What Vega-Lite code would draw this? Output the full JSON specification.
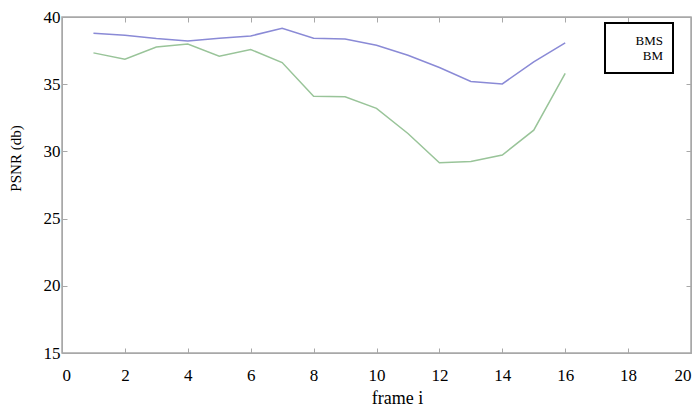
{
  "$schema": "https://vega.github.io/schema/vega-lite/v6.json",
  "autosize": "none",
  "width": 629,
  "height": 336,
  "padding": {"left": 62, "top": 17, "right": 6, "bottom": 55},
  "background": "white",
  "config": {
    "view": {"stroke": "#a8a8a8", "strokeWidth": 1.5},
    "font": "Liberation Serif",
    "axis": {
      "grid": false,
      "domainColor": "#a8a8a8",
      "tickColor": "#a8a8a8",
      "tickSize": -5,
      "labelFont": "Liberation Serif",
      "labelColor": "#000000",
      "labelFontSize": 17,
      "titleFont": "Liberation Serif",
      "titleFontWeight": "normal",
      "titleColor": "#000000"
    },
    "legend": {
      "strokeColor": "#000000",
      "strokeWidth": 2,
      "padding": 10,
      "fillColor": "white",
      "labelFont": "Liberation Serif",
      "labelFontSize": 13,
      "labelColor": "#000000"
    }
  },
  "data": {
    "values": [
      {"frame": 1, "psnr": 38.8, "method": "BMS"},
      {"frame": 2, "psnr": 38.65, "method": "BMS"},
      {"frame": 3, "psnr": 38.4, "method": "BMS"},
      {"frame": 4, "psnr": 38.22, "method": "BMS"},
      {"frame": 5, "psnr": 38.42, "method": "BMS"},
      {"frame": 6, "psnr": 38.59, "method": "BMS"},
      {"frame": 7, "psnr": 39.16, "method": "BMS"},
      {"frame": 8, "psnr": 38.42, "method": "BMS"},
      {"frame": 9, "psnr": 38.37, "method": "BMS"},
      {"frame": 10, "psnr": 37.9, "method": "BMS"},
      {"frame": 11, "psnr": 37.15, "method": "BMS"},
      {"frame": 12, "psnr": 36.24, "method": "BMS"},
      {"frame": 13, "psnr": 35.2, "method": "BMS"},
      {"frame": 14, "psnr": 35.02, "method": "BMS"},
      {"frame": 15, "psnr": 36.66, "method": "BMS"},
      {"frame": 16, "psnr": 38.07, "method": "BMS"},
      {"frame": 1, "psnr": 37.33, "method": "BM"},
      {"frame": 2, "psnr": 36.86, "method": "BM"},
      {"frame": 3, "psnr": 37.77, "method": "BM"},
      {"frame": 4, "psnr": 37.99, "method": "BM"},
      {"frame": 5, "psnr": 37.08, "method": "BM"},
      {"frame": 6, "psnr": 37.58, "method": "BM"},
      {"frame": 7, "psnr": 36.61, "method": "BM"},
      {"frame": 8, "psnr": 34.11, "method": "BM"},
      {"frame": 9, "psnr": 34.06, "method": "BM"},
      {"frame": 10, "psnr": 33.2, "method": "BM"},
      {"frame": 11, "psnr": 31.33, "method": "BM"},
      {"frame": 12, "psnr": 29.15, "method": "BM"},
      {"frame": 13, "psnr": 29.25, "method": "BM"},
      {"frame": 14, "psnr": 29.73, "method": "BM"},
      {"frame": 15, "psnr": 31.58, "method": "BM"},
      {"frame": 16, "psnr": 35.8, "method": "BM"}
    ]
  },
  "resolve": {"axis": {"x": "independent", "y": "independent"}},
  "layer": [
    {
      "mark": {"type": "line", "strokeWidth": 1.5},
      "encoding": {
        "x": {
          "field": "frame", "type": "quantitative",
          "scale": {"domain": [0, 20], "nice": false},
          "axis": {"orient": "bottom", "values": [0,2,4,6,8,10,12,14,16,18,20], "title": "frame i",
                   "titleFontSize": 18, "labelPadding": 19, "titleX": 335, "titleY": 50, "titleBaseline": "alphabetic"}
        },
        "y": {
          "field": "psnr", "type": "quantitative",
          "scale": {"domain": [15, 40], "nice": false, "zero": false},
          "axis": {"orient": "left", "values": [15,20,25,30,35,40], "title": "PSNR (db)",
                   "titleFontSize": 15, "labelPadding": 7, "titleX": -47, "titleY": 141, "titleBaseline": "middle"}
        },
        "color": {
          "field": "method", "type": "nominal",
          "scale": {"domain": ["BMS", "BM"], "range": ["#8a8ad6", "#99c499"]},
          "legend": {
            "orient": "none", "legendX": 543, "legendY": 6,
            "title": null,
            "symbolType": "stroke", "symbolSize": 225, "symbolStrokeWidth": 0, "symbolOpacity": 0,
            "labelAlign": "right", "labelOffset": 33,
            "labelFont": "Liberation Serif",
            "rowPadding": 0
          }
        }
      }
    },
    {
      "mark": {"type": "line", "strokeOpacity": 0},
      "encoding": {
        "x": {
          "field": "frame", "type": "quantitative",
          "axis": {"orient": "top", "values": [0,2,4,6,8,10,12,14,16,18,20], "labels": false, "title": null}
        },
        "y": {
          "field": "psnr", "type": "quantitative",
          "axis": {"orient": "right", "values": [15,20,25,30,35,40], "labels": false, "title": null}
        },
        "detail": {"field": "method", "type": "nominal"}
      }
    }
  ]
}
